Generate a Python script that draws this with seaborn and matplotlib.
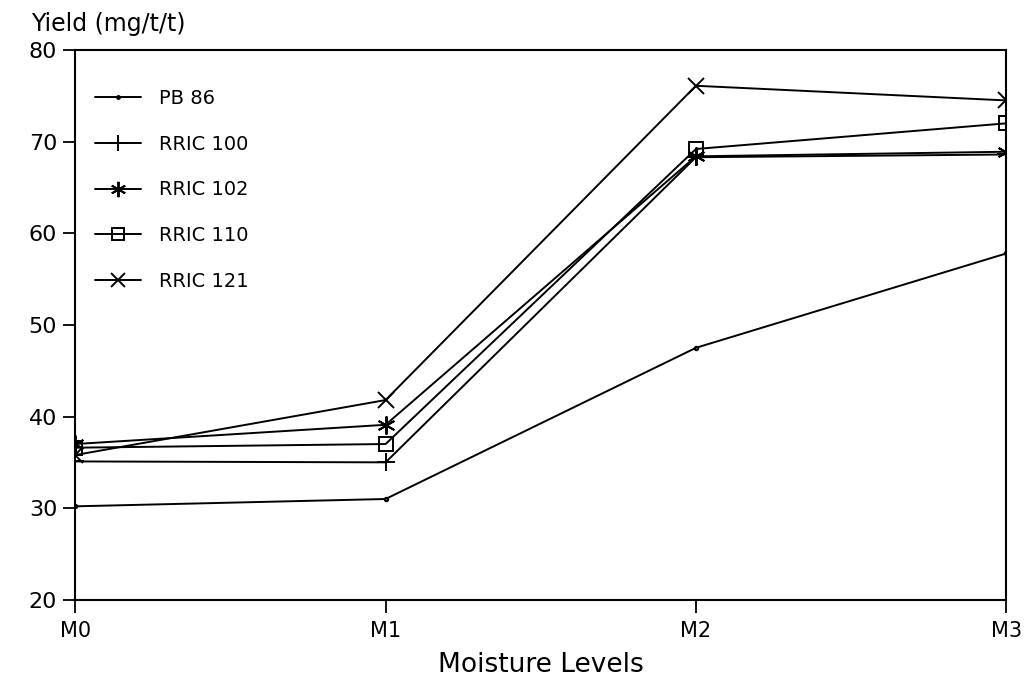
import pandas as pd
import matplotlib
matplotlib.use("Agg")
import matplotlib.pyplot as plt
import seaborn as sns

levels = ["M0", "M1", "M2", "M3"]
varieties = ["PB 86", "RRIC 100", "RRIC 102", "RRIC 110", "RRIC 121"]
pb86 = [30.2, 31.0, 47.5, 57.8]
rric100 = [35.1, 35.0, 68.3, 68.6]
rric102 = [37.0, 39.1, 68.4, 68.9]
rric110 = [36.6, 37.0, 69.2, 72.0]
rric121 = [35.8, 41.8, 76.1, 74.5]

yticks = [20, 30, 40, 50, 60, 70, 80]

rows = []
for name, vals in zip(varieties, [pb86, rric100, rric102, rric110, rric121]):
    for i, v in enumerate(vals):
        rows.append({"pos": i, "level": levels[i], "variety": name, "yield": v})
df = pd.DataFrame(rows)

sns.set_theme(style="white")
plt.rcParams["font.family"] = ["DejaVu Sans"]
plt.rcParams["text.color"] = "black"
plt.rcParams["axes.labelcolor"] = "black"
plt.rcParams["xtick.color"] = "black"
plt.rcParams["ytick.color"] = "black"

fig = plt.figure(figsize=(10.31, 6.95), dpi=100)
ax = fig.add_axes([0.073, 0.137, 0.903, 0.791])

markers = {"PB 86": ".", "RRIC 100": "+", "RRIC 102": (6, 2, 0),
           "RRIC 110": "s", "RRIC 121": "x"}
msize = {"PB 86": 5, "RRIC 100": 13, "RRIC 102": 13, "RRIC 110": 10, "RRIC 121": 12}

# one call per variety, since seaborn won't mix filled and line markers
for v in varieties:
    sub = df[df["variety"] == v]
    sns.lineplot(data=sub, x="pos", y="yield", ax=ax, color="black",
                 linewidth=1.4, marker=markers[v], markersize=msize[v],
                 markerfacecolor="none", markeredgecolor="black",
                 markeredgewidth=1.4, label=v)

handles, labels = ax.get_legend_handles_labels()
ax.legend(handles, labels, loc="upper left", bbox_to_anchor=(0.0, 0.965),
          frameon=False, fontsize=14, handlelength=2.4, labelspacing=1.38,
          handletextpad=0.9, borderaxespad=0.6, markerscale=0.85)

ax.set_xlim(0, 3)
ax.set_ylim(20, 80)
ax.set_xticks(range(4))
ax.set_xticklabels(levels, fontsize=15)
ax.set_yticks(yticks)
ax.set_yticklabels([str(t) for t in yticks], fontsize=16)
ax.tick_params(axis="both", direction="out", length=9, width=1.3, color="black",
               bottom=True, left=True)
ax.tick_params(axis="x", pad=6)
ax.tick_params(axis="y", pad=4)
for s in ax.spines.values():
    s.set_color("black")
    s.set_linewidth(1.5)

ax.set_xlabel("Moisture Levels", fontsize=19, labelpad=8)
ax.set_ylabel("")
fig.text(0.03, 0.965, "Yield (mg/t/t)", fontsize=17, ha="left", va="center")

fig.savefig("out.png", dpi=100)
